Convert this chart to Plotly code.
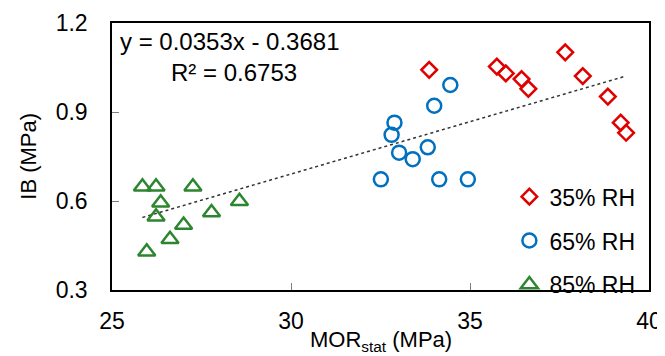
import plotly.graph_objects as go

# Data
mor_35 = [33.86, 35.75, 36.00, 36.44, 36.63, 37.66, 38.15, 38.85, 39.21, 39.36]
ib_35 = [1.042, 1.053, 1.030, 1.011, 0.978, 1.101, 1.021, 0.952, 0.864, 0.830]

mor_65 = [34.45, 34.00, 32.89, 32.81, 33.02, 33.40, 33.82, 32.51, 34.14, 34.94]
ib_65 = [0.991, 0.921, 0.864, 0.823, 0.763, 0.741, 0.781, 0.673, 0.673, 0.673]

mor_85 = [25.85, 26.23, 27.26, 26.36, 26.23, 28.56, 27.78, 27.00, 26.62, 25.97]
ib_85 = [0.648, 0.648, 0.648, 0.594, 0.547, 0.599, 0.561, 0.519, 0.471, 0.429]

slope = 0.0353
intercept = -0.3681
r2 = 0.6753

series_names = ["35% RH", "65% RH", "85% RH"]
x_ticks = [25, 30, 35, 40]
y_ticks = [0.3, 0.6, 0.9, 1.2]

FONT = "Liberation Sans, Arial, sans-serif"

all_x = mor_35 + mor_65 + mor_85
x0, x1 = min(all_x), max(all_x)

fig = go.Figure()

fig.add_trace(go.Scatter(
    x=[x0, x1], y=[slope * x0 + intercept, slope * x1 + intercept],
    mode="lines", line=dict(color="#333333", width=1.5, dash="dot"),
    showlegend=False, hoverinfo="skip"))

fig.add_trace(go.Scatter(
    x=mor_35, y=ib_35, mode="markers", name=series_names[0], legendgroup="a",
    marker=dict(symbol="diamond-open", size=12, color="#E00000",
                line=dict(width=2.5, color="#E00000"))))
fig.add_trace(go.Scatter(
    x=mor_65, y=ib_65, mode="markers", name=series_names[1], legendgroup="b",
    marker=dict(symbol="circle-open", size=14, color="#0070C0",
                line=dict(width=2.5, color="#0070C0"))))
fig.add_trace(go.Scatter(
    x=mor_85, y=ib_85, mode="markers", name=series_names[2], legendgroup="c",
    marker=dict(symbol="triangle-up-open", size=15, color="#2E8530",
                line=dict(width=2.5, color="#2E8530"))))

fig.add_annotation(xref="paper", yref="paper", x=0.011, y=0.93,
                   xanchor="left", yanchor="middle", showarrow=False,
                   text=f"y = {slope}x - {abs(intercept)}",
                   font=dict(family=FONT, size=24, color="#000000"))
fig.add_annotation(xref="paper", yref="paper", x=0.106, y=0.815,
                   xanchor="left", yanchor="middle", showarrow=False,
                   text=f"R² = {r2}",
                   font=dict(family=FONT, size=24, color="#000000"))

# Axis titles
fig.add_annotation(xref="paper", yref="paper", x=0.5, y=-0.19,
                   xanchor="center", yanchor="middle", showarrow=False,
                   text="MOR<sub>stat</sub> (MPa)",
                   font=dict(family=FONT, size=22, color="#000000"))
fig.add_annotation(xref="paper", yref="paper", x=-0.156, y=0.5,
                   xanchor="center", yanchor="middle", showarrow=False,
                   textangle=-90, text="IB (MPa)",
                   font=dict(family=FONT, size=22, color="#000000"))

# The page body adds an 8px offset, so the figure is sized 8px smaller.
fig.update_layout(
    width=657, height=348,
    margin=dict(l=104, r=16, t=15, b=66),
    paper_bgcolor="white", plot_bgcolor="white",
    font=dict(family=FONT, size=23, color="#000000"),
    legend=dict(x=0.74, y=0.43, xanchor="left", yanchor="top",
                bgcolor="rgba(255,255,255,0)", tracegroupgap=11,
                font=dict(family=FONT, size=23), itemwidth=30),
    xaxis=dict(range=[25, 40], tickvals=x_ticks, ticks="inside", ticklen=7,
               tickcolor="#7f7f7f", showgrid=False, zeroline=False,
               showline=True, linecolor="#000000", linewidth=1.5, mirror=True,
               ticklabelstandoff=10, automargin=False),
    yaxis=dict(range=[0.3, 1.2], tickvals=y_ticks, tickformat=".1f",
               ticks="inside", ticklen=7, tickcolor="#7f7f7f", showgrid=False,
               zeroline=False, showline=True, linecolor="#000000",
               linewidth=1.5, mirror=True, ticklabelstandoff=18,
               automargin=False),
)

fig.write_html("out.html")
